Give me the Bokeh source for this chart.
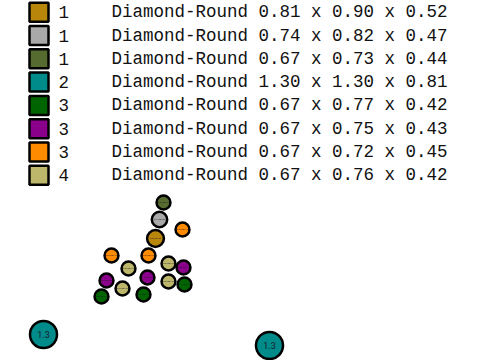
from bokeh.plotting import figure
from bokeh.models import Range1d, ColumnDataSource
from bokeh.core.properties import value
from bokeh.embed import file_html
from bokeh.resources import INLINE

# Legend / group table
group_colors = ["#B8860B", "#A9A9A9", "#556B2F", "#008B8B", "#006400", "#8B008B", "#FF8C00", "#BDB76B"]
group_counts = [1, 1, 1, 2, 3, 3, 3, 4]
group_shape = ["Diamond-Round"] * 8
group_length = [0.81, 0.74, 0.67, 1.30, 0.67, 0.67, 0.67, 0.67]
group_width = [0.90, 0.82, 0.73, 1.30, 0.77, 0.75, 0.72, 0.76]
group_depth = [0.52, 0.47, 0.44, 0.81, 0.42, 0.43, 0.45, 0.42]

# Individual stones (group index, position on the canvas)
stone_group = [0, 1, 2, 3, 3, 4, 4, 4, 5, 5, 5, 6, 6, 6, 7, 7, 7, 7]
stone_x = [155, 159, 163, 43, 269, 101, 143, 184, 106, 147, 183, 111, 148, 182, 128, 168, 122, 168]
stone_y = [238, 219, 202, 334, 345, 296, 294, 284, 280, 277, 267, 255, 255, 229, 268, 263, 288, 281]
stone_label = ["0.81x0.90", "0.74x0.82", "0.67x0.73", "1.3", "1.3",
               "0.67x0.77", "0.67x0.77", "0.67x0.77",
               "0.67x0.75", "0.67x0.75", "0.67x0.75",
               "0.67x0.72", "0.67x0.72", "0.67x0.72",
               "0.67x0.76", "0.67x0.76", "0.67x0.76", "0.67x0.76"]

W, H = 480, 360
p = figure(width=W, height=H, output_backend="svg", toolbar_location=None,
           x_range=Range1d(0, W), y_range=Range1d(H, 0),
           min_border=0, outline_line_color=None)
p.axis.visible = False
p.grid.visible = False
p.background_fill_color = "white"

# Legend rows
row0, row_step = 11.7, 23.3
rows_y = [row0 + i * row_step for i in range(len(group_colors))]
desc = [f"{s} {l:.2f} x {w:.2f} x {d:.2f}" for s, l, w, d in zip(group_shape, group_length, group_width, group_depth)]
leg = ColumnDataSource(dict(y=rows_y, sx=[38.5] * 8, cx=[58] * 8, dx=[111] * 8,
                            color=group_colors, count=[str(c) for c in group_counts], desc=desc))
p.scatter(x="sx", y="y", source=leg, marker="square", size=19, fill_color="color",
          line_color="black", line_width=2.5)
p.text(x="cx", y="y", text="count", source=leg, text_font=value("Liberation Mono"),
       text_font_size="17.5px", text_baseline="middle", text_align="left", text_color="#111111")
p.text(x="dx", y="y", text="desc", source=leg, text_font=value("Liberation Mono"),
       text_font_size="17.5px", text_baseline="middle", text_align="left", text_color="#111111")

# Stones
scale = 20.8
sizes = [group_length[g] * scale for g in stone_group]
fonts = ["9px" if group_length[g] > 1 else "2.5px" for g in stone_group]
st = ColumnDataSource(dict(x=stone_x, y=stone_y, size=sizes,
                           color=[group_colors[g] for g in stone_group],
                           label=stone_label, fs=fonts))
p.scatter(x="x", y="y", source=st, marker="circle", size="size", fill_color="color",
          line_color="black", line_width=2.5)
p.text(x="x", y="y", text="label", source=st, text_font=value("Roboto"),
       text_font_size="fs", text_align="center", text_baseline="middle", text_color="#1a1a2a")

open("out.html", "w").write(file_html(p, INLINE))
